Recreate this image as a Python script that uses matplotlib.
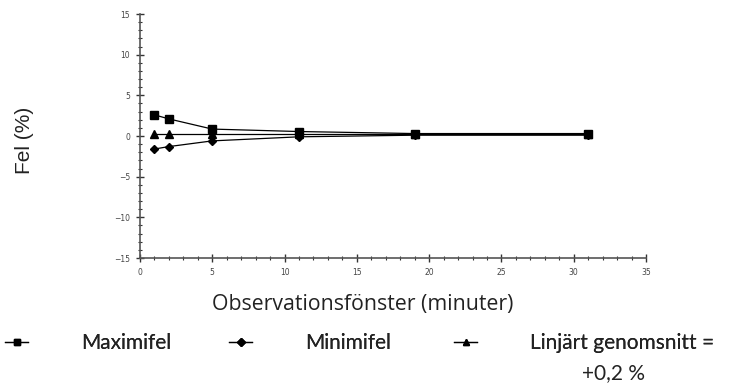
import matplotlib
matplotlib.use("Agg")
import matplotlib.pyplot as plt
from matplotlib.ticker import MultipleLocator

# Observation window lengths (minutes) and error values (%)
window_min = [1, 2, 5, 11, 19, 31]
max_error = [2.6, 2.1, 0.85, 0.55, 0.3, 0.3]
min_error = [-1.6, -1.3, -0.6, -0.1, 0.1, 0.1]
linear_avg = [0.2, 0.2, 0.2, 0.2, 0.2, 0.2]

series_labels = ["Maximifel", "Minimifel", "Linjärt genomsnitt ="]
avg_note = "+0,2 %"
x_label = "Observationsfönster (minuter)"
y_label = "Fel (%)"

W, H = 739, 385
fig = plt.figure(figsize=(W / 100, H / 100), dpi=100)
ax = fig.add_axes([140 / W, 1 - 258 / H, 506 / W, 244 / H])

line_kw = dict(color="black", linewidth=0.9, markersize=5.5)
h1, = ax.plot(window_min, max_error, marker="s", **line_kw)
h2, = ax.plot(window_min, min_error, marker="D", markersize=4.2,
              color="black", linewidth=0.9)
h3, = ax.plot(window_min, linear_avg, marker="^", **line_kw)

ax.set_xlim(0, 35)
ax.set_ylim(-15, 15)
ax.xaxis.set_major_locator(MultipleLocator(5))
ax.xaxis.set_minor_locator(MultipleLocator(1))
ax.yaxis.set_major_locator(MultipleLocator(5))
ax.yaxis.set_minor_locator(MultipleLocator(1))

for side in ("top", "right"):
    ax.spines[side].set_visible(False)
for side in ("left", "bottom"):
    ax.spines[side].set_color("#555555")
    ax.spines[side].set_linewidth(1.2)

ax.tick_params(which="major", direction="inout", length=6, width=1,
               color="#333333", labelsize=5.5, labelcolor="#444444", pad=4)
ax.tick_params(which="minor", direction="inout", length=3, width=0.8,
               color="#333333")

# axis titles
fig.text(363 / W, 1 - 310 / H, x_label, fontsize=15.3, ha="center",
         va="baseline", family=["Open Sans", "DejaVu Sans"], color="#222222")
fig.text(24 / W, 1 - 140 / H, y_label, rotation=90, fontsize=15,
         va="center", ha="center", family=["Liberation Sans", "DejaVu Sans"],
         color="#222222")

# legend: one entry per column, each anchored at its handle's left edge
leg_font = ["Lato", "DejaVu Sans"]
leg_size = 15.0
fpx = leg_size * 100 / 72
handle_x = [5, 229, 454]
handles = [h1, h2, h3]
for hx, hd, lab in zip(handle_x, handles, series_labels):
    leg = fig.legend([hd], [lab], loc="upper left",
                     bbox_to_anchor=(hx / W, 1 - 333 / H), frameon=False,
                     borderpad=0, borderaxespad=0,
                     handlelength=23 / fpx, handletextpad=53 / fpx,
                     prop={"family": leg_font, "size": leg_size})
    for h in leg.legend_handles:
        h.set_markersize(4)
    for t in leg.get_texts():
        t.set_color("#222222")
    fig.add_artist(leg)

# second line of the last legend label
fig.text(613 / W, 1 - 379 / H, avg_note, fontsize=leg_size, ha="center",
         va="baseline", family=leg_font, color="#222222")

fig.savefig("out.png", dpi=100)
